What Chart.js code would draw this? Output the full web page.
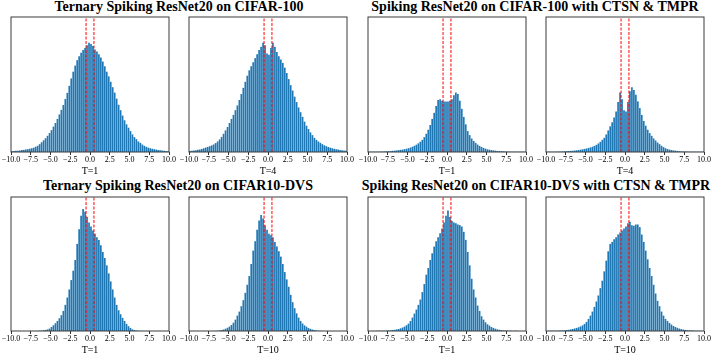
<!DOCTYPE html>
<html>
<head>
<meta charset="utf-8">
<script src="https://cdn.jsdelivr.net/npm/chart.js@4.4.1/dist/chart.umd.min.js"></script>
<style>
  body { margin: 0; background: #fff; }
  #page { width: 714px; height: 358px; position: relative; }
  canvas { position: absolute; }
  .title { position: absolute; font-family: "Liberation Serif", serif; font-weight: bold; font-size: 14px; line-height: 14px; white-space: nowrap; transform: translateX(-50%); color: #000; }
</style>
</head>
<body>
<div id="page">
<div class="title" style="left:179px;top:0px">Ternary Spiking ResNet20 on CIFAR-100</div>
<div class="title" style="left:535px;top:0px">Spiking ResNet20 on CIFAR-100 with CTSN &amp; TMPR</div>
<div class="title" style="left:178px;top:179px">Ternary Spiking ResNet20 on CIFAR10-DVS</div>
<div class="title" style="left:536px;top:179px">Spiking ResNet20 on CIFAR10-DVS with CTSN &amp; TMPR</div>
</div>
<script>
// histogram bins: 80 bins of width 0.25 between -10 and 10
const binStart = -10;
const binWidth = 0.25;
const binCount = 80;
const tickValues = [-10, -7.5, -5, -2.5, 0, 2.5, 5, 7.5, 10];
const thresholds = [-0.5, 0.5];

// bar heights, in percent of the axis height
const ternaryC100T1 = [
  0.6, 0.7, 0.9, 1.0, 1.2, 1.4, 1.6, 1.9, 2.1, 2.4,
  2.8, 3.2, 3.9, 4.6, 5.8, 7.2, 8.7, 10.2, 12, 14,
  16.2, 18.8, 21.5, 24.5, 27.8, 31.2, 34.8, 39.2, 43.8, 49,
  54.5, 59.5, 64, 68, 71, 73.5, 75.5, 77, 79, 81,
  80, 78.5, 76, 74.5, 72.5, 70, 67, 63.5, 59.5, 56,
  52, 48, 44, 39.5, 35, 31, 27, 23.5, 20.5, 18,
  15.5, 13, 11, 9.5, 7.8, 6.8, 5.5, 4.6, 3.8, 3.2,
  2.8, 2.4, 2.1, 1.8, 1.5, 1.3, 1.1, 0.9, 0.7, 0.6
];
const ternaryC100T4 = [
  0.8, 1.0, 1.1, 1.3, 1.6, 1.9, 2.3, 2.8, 3.3, 3.8,
  4.3, 4.9, 5.6, 6.6, 7.8, 9.3, 11.2, 13.5, 16, 18.5,
  21.5, 24.5, 27.5, 31, 34.5, 38.5, 43, 47.5, 52, 56.5,
  60.5, 63.5, 66.5, 69.5, 72.5, 75.5, 78, 81, 79, 73,
  72, 77, 81, 78, 74, 71, 68.5, 66, 62.5, 58.5,
  54, 49.5, 45.5, 41, 37, 33, 29.5, 26, 22.5, 19.5,
  17, 14.5, 12.5, 10.5, 9, 7.8, 6.8, 5.8, 5, 4.3,
  3.7, 3.2, 2.8, 2.4, 2.1, 1.8, 1.5, 1.3, 1.1, 0.9
];
const ctsnC100T1 = [
  0.1, 0.1, 0.1, 0.2, 0.2, 0.2, 0.3, 0.3, 0.4, 0.5,
  0.6, 0.7, 0.9, 1.0, 1.2, 1.4, 1.6, 1.8, 2.1, 2.4,
  2.8, 3.3, 3.9, 4.6, 5.4, 6.4, 7.6, 9, 11, 13.5,
  16.5, 20, 24.5, 29, 34, 38.5, 39, 38, 37.5, 37.5,
  37.5, 38, 39, 42, 44, 43, 38, 32, 26, 20.5,
  15.5, 12.5, 10, 8.2, 6.8, 5.5, 4.5, 3.7, 3.0, 2.5,
  2.0, 1.7, 1.4, 1.2, 1.0, 0.8, 0.7, 0.6, 0.5, 0.4,
  0.3, 0.3, 0.2, 0.2, 0.2, 0.1, 0.1, 0.1, 0.1, 0.1
];
const ctsnC100T4 = [
  0.1, 0.1, 0.1, 0.2, 0.2, 0.2, 0.3, 0.3, 0.4, 0.5,
  0.6, 0.7, 0.8, 0.9, 1.1, 1.3, 1.5, 1.7, 2.0, 2.3,
  2.6, 3.0, 3.4, 3.9, 4.5, 5.3, 6.3, 7.5, 9, 10.5,
  13, 16, 19, 22, 25.5, 30, 37, 44, 39, 31,
  30, 37, 45, 48, 46, 42.5, 37.5, 32.5, 27.5, 23,
  19.5, 16.5, 14, 12, 10, 8.5, 7, 5.8, 4.6, 3.6,
  2.8, 2.2, 1.8, 1.5, 1.2, 1.0, 0.8, 0.6, 0.5, 0.4,
  0.3, 0.3, 0.2, 0.2, 0.2, 0.1, 0.1, 0.1, 0.1, 0.1
];
const ternaryDvsT1 = [
  0, 0, 0, 0, 0, 0, 0, 0, 0, 0,
  0, 0, 0.1, 0.1, 0.2, 0.3, 0.5, 0.8, 1.2, 1.8,
  3, 4.3, 5.8, 7.5, 9.5, 11.8, 15, 19.5, 25, 31,
  38, 45, 53, 65, 76, 86, 91, 89, 85, 81,
  78, 75, 72.5, 70, 68, 64, 59, 54.5, 49, 43,
  37, 31, 25, 19.5, 15.5, 12.5, 9.8, 7.5, 5.3, 3.6,
  2.3, 1.2, 0.7, 0.4, 0.2, 0.1, 0.1, 0, 0, 0,
  0, 0, 0, 0, 0, 0, 0, 0, 0, 0
];
const ternaryDvsT10 = [
  0, 0, 0, 0, 0, 0, 0, 0, 0, 0,
  0, 0, 0.1, 0.1, 0.2, 0.4, 0.7, 1.1, 1.7, 2.4,
  3.3, 4.5, 6.2, 8.5, 11.5, 14.5, 18.5, 23, 28.5, 34.5,
  41, 50, 60, 67, 75.5, 82.5, 86.5, 84, 79, 75.5,
  72.5, 71.5, 70, 66.5, 63, 59.5, 55.5, 50, 44, 38.5,
  33, 27, 21.5, 17, 13.2, 10, 7.5, 5.6, 4.2, 3.2,
  2.2, 1.6, 1.1, 0.7, 0.4, 0.2, 0.1, 0.1, 0, 0,
  0, 0, 0, 0, 0, 0, 0, 0, 0, 0
];
const ctsnDvsT1 = [
  0, 0, 0, 0, 0.1, 0.1, 0.1, 0.2, 0.2, 0.3,
  0.4, 0.5, 0.7, 0.9, 1.2, 1.5, 2.0, 2.6, 3.3, 4.3,
  5.5, 7.5, 10, 13, 16, 19.5, 23.5, 29, 35, 42,
  47, 53, 58, 63, 67, 70, 73, 76.5, 81, 86,
  90, 85, 82, 81, 80.5, 79.5, 79, 78, 74, 68,
  59, 49, 39, 31, 25, 19, 15, 11, 8.5, 6.5,
  5, 4, 3, 2.3, 1.7, 1.2, 0.9, 0.7, 0.5, 0.4,
  0.3, 0.2, 0.2, 0.1, 0.1, 0.1, 0, 0, 0, 0
];
const ctsnDvsT10 = [
  0, 0.1, 0.1, 0.1, 0.2, 0.2, 0.3, 0.3, 0.4, 0.5,
  0.7, 0.9, 1.2, 1.5, 1.9, 2.3, 2.8, 3.4, 4.2, 5.3,
  6.8, 9, 11.5, 14.5, 18, 22, 26.5, 32, 37.5, 44.5,
  52.5, 59.5, 65, 66.5, 68.5, 70, 72, 73.5, 75, 76.5,
  78, 80.5, 81.5, 79, 78.5, 79.5, 79.5, 77.5, 72, 66.5,
  60, 53.5, 47, 41, 34.5, 28, 22.5, 18.5, 14.5, 11.5,
  9, 7.5, 6, 4.8, 3.8, 3.0, 2.4, 1.8, 1.4, 1.1,
  0.8, 0.6, 0.5, 0.4, 0.3, 0.2, 0.2, 0.1, 0.1, 0
];

const binCenters = [];
for (let i = 0; i < binCount; i++) binCenters.push(binStart + binWidth * (i + 0.5));

const panels = [
  { values: ternaryC100T1, xlabel: "T=1", x: 11, y: 17, w: 158, h: 135 },
  { values: ternaryC100T4, xlabel: "T=4", x: 189, y: 17, w: 158, h: 135 },
  { values: ctsnC100T1, xlabel: "T=1", x: 368, y: 17, w: 158, h: 135 },
  { values: ctsnC100T4, xlabel: "T=4", x: 546, y: 17, w: 158, h: 135 },
  { values: ternaryDvsT1, xlabel: "T=1", x: 11, y: 197, w: 158, h: 134 },
  { values: ternaryDvsT10, xlabel: "T=10", x: 189, y: 197, w: 158, h: 134 },
  { values: ctsnDvsT1, xlabel: "T=1", x: 368, y: 197, w: 158, h: 134 },
  { values: ctsnDvsT10, xlabel: "T=10", x: 546, y: 197, w: 158, h: 134 }
];

const PAD_LEFT = 11;
const PAD_RIGHT = 9;
const PAD_TOP = 2;
const AXIS_H = 25;

const framePlugin = {
  id: "frame",
  afterDatasetsDraw(chart) {
    const { ctx, chartArea: a } = chart;
    ctx.save();
    ctx.strokeStyle = "#3a3a3a";
    ctx.lineWidth = 1;
    ctx.strokeRect(a.left, a.top, a.right - a.left, a.bottom - a.top);
    ctx.restore();
  }
};

const page = document.getElementById("page");

panels.forEach(p => {
  const canvas = document.createElement("canvas");
  canvas.width = p.w + PAD_LEFT + PAD_RIGHT;
  canvas.height = PAD_TOP + p.h + AXIS_H;
  canvas.style.left = (p.x - PAD_LEFT) + "px";
  canvas.style.top = (p.y - PAD_TOP) + "px";
  page.appendChild(canvas);

  new Chart(canvas, {
    type: "bar",
    data: {
      datasets: [
        {
          type: "bar",
          data: binCenters.map((x, i) => ({ x: x, y: p.values[i] })),
          backgroundColor: "#1f77b4",
          borderWidth: 0,
          barPercentage: 0.85,
          categoryPercentage: 1,
          order: 2
        },
        ...thresholds.map(t => ({
          type: "line",
          data: [{ x: t, y: 0 }, { x: t, y: 100 }],
          borderColor: "rgb(255, 0, 0)",
          backgroundColor: "rgb(255, 0, 0)",
          borderWidth: 1,
          borderDash: [3, 1.5],
          pointRadius: 0,
          fill: false,
          order: 1
        }))
      ]
    },
    options: {
      responsive: false,
      animation: false,
      devicePixelRatio: 1,
      layout: { padding: { left: PAD_LEFT, right: PAD_RIGHT, top: PAD_TOP, bottom: 0 } },
      plugins: { legend: { display: false }, tooltip: { enabled: false } },
      scales: {
        x: {
          type: "linear",
          min: -10,
          max: 10,
          offset: false,
          afterBuildTicks: s => { s.ticks = tickValues.map(v => ({ value: v })); },
          afterFit: s => { s.height = AXIS_H; },
          ticks: {
            autoSkip: false,
            maxRotation: 0,
            minRotation: 0,
            padding: 0,
            color: "#000",
            font: { family: "Liberation Serif", size: 8 },
            callback: v => Number(v).toFixed(1).replace("-", "\u2212")
          },
          grid: { drawOnChartArea: false, drawTicks: true, tickLength: 3, tickColor: "#000", tickWidth: 0.8, offset: false },
          border: { display: false },
          title: {
            display: true,
            text: p.xlabel,
            color: "#000",
            font: { family: "Liberation Serif", size: 10 },
            padding: { top: 0, bottom: 0 }
          }
        },
        y: { display: false, min: 0, max: 100 }
      }
    },
    plugins: [framePlugin]
  });
});
</script>
</body>
</html>
